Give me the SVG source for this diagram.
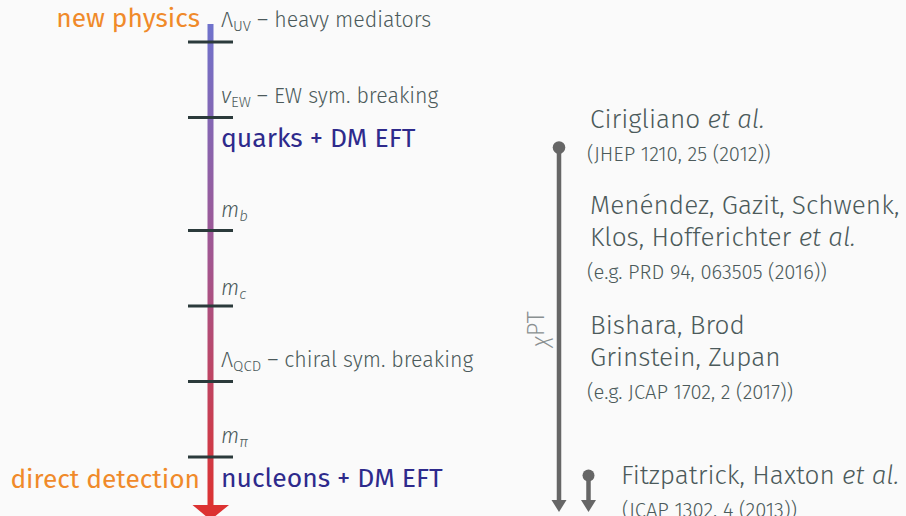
<svg xmlns="http://www.w3.org/2000/svg" width="906" height="516" viewBox="0 0 906 516">
<defs>
<linearGradient id="scale" x1="0" y1="24" x2="0" y2="505" gradientUnits="userSpaceOnUse">
<stop offset="0" stop-color="#6f72cc"/>
<stop offset="0.5" stop-color="#a3558e"/>
<stop offset="1" stop-color="#dc3232"/>
</linearGradient>
</defs>
<style>
text { font-family: "Fira Sans", "Open Sans", "Noto Sans", "Liberation Sans", sans-serif; font-weight: 300; }
.orange { fill: #f08a2a; font-size: 26.3px; font-weight: 400; }
.scale { fill: #4c5a5b; font-size: 21.4px; }
.sub { font-size: 15px; }
.eft { fill: #2e2a8c; font-size: 26.5px; font-weight: 400; }
.ref { fill: #4c5a5b; font-size: 26.2px; }
.cite { fill: #4c5a5b; font-size: 20.2px; }
.tick { stroke: #2b3a3b; stroke-width: 3; }
.gline { stroke: #666666; stroke-width: 4.5; fill: none; }
.ghead { fill: #666666; }
</style>
<rect width="906" height="516" fill="#fafafa"/>

<g id="connectors">
<rect x="207.5" y="24" width="6" height="482" fill="url(#scale)"/>
<path d="M192.5,505 L229,505 L210.5,520 Z" fill="#dc3232"/>
<line class="tick" x1="188" y1="42" x2="233" y2="42"/>
<line class="tick" x1="188" y1="117.5" x2="233" y2="117.5"/>
<line class="tick" x1="188" y1="230.5" x2="233" y2="230.5"/>
<line class="tick" x1="188" y1="306" x2="233" y2="306"/>
<line class="tick" x1="188" y1="381.5" x2="233" y2="381.5"/>
<line class="tick" x1="188" y1="457" x2="233" y2="457"/>
<circle cx="559" cy="147.5" r="6.3" fill="#666666"/>
<line class="gline" x1="559" y1="147.5" x2="559" y2="501"/>
<path class="ghead" d="M551.5,500 L566.5,500 L559,512 Z"/>
<circle cx="588.5" cy="475.5" r="6" fill="#666666"/>
<line class="gline" x1="588.5" y1="475.5" x2="588.5" y2="501"/>
<path class="ghead" d="M581,500 L596,500 L588.5,512 Z"/>
</g>

<g id="new-physics"><text class="orange" x="200" y="27" text-anchor="end">new physics</text></g>
<g id="lambda-uv"><text class="scale" x="221" y="27">Λ<tspan class="sub" dy="4">UV</tspan><tspan dy="-4"> – heavy mediators</tspan></text></g>
<g id="v-ew"><text class="scale" x="221" y="103"><tspan font-style="italic">v</tspan><tspan class="sub" dy="4">EW</tspan><tspan dy="-4"> – EW sym. breaking</tspan></text></g>
<g id="quarks-eft"><text class="eft" x="221" y="147">quarks + DM EFT</text></g>
<g id="m-b"><text class="scale" x="221" y="217"><tspan font-style="italic">m</tspan><tspan class="sub" font-style="italic" dy="4">b</tspan></text></g>
<g id="m-c"><text class="scale" x="221" y="295"><tspan font-style="italic">m</tspan><tspan class="sub" font-style="italic" dy="4">c</tspan></text></g>
<g id="lambda-qcd"><text class="scale" x="221" y="367">Λ<tspan class="sub" dy="4">QCD</tspan><tspan dy="-4"> – chiral sym. breaking</tspan></text></g>
<g id="m-pi"><text class="scale" x="221" y="443"><tspan font-style="italic">m</tspan><tspan class="sub" font-style="italic" dy="4">π</tspan></text></g>
<g id="direct-detection"><text class="orange" x="200" y="488" text-anchor="end">direct detection</text></g>
<g id="nucleons-eft"><text class="eft" x="221" y="487">nucleons + DM EFT</text></g>

<g id="chipt"><text font-size="24" transform="translate(548,329) rotate(-90)" text-anchor="middle" fill="#8a9091"><tspan font-style="italic" dy="0">χ</tspan><tspan dy="-4">PT</tspan></text></g>

<g id="cirigliano">
<text class="ref" x="590" y="128">Cirigliano <tspan font-style="italic">et al.</tspan></text>
<text class="cite" x="587" y="161">(JHEP 1210, 25 (2012))</text>
</g>
<g id="menendez">
<text class="ref" x="590" y="214">Menéndez, Gazit, Schwenk,</text>
<text class="ref" x="590" y="246">Klos, Hofferichter <tspan font-style="italic">et al.</tspan></text>
<text class="cite" x="587" y="279">(e.g. PRD 94, 063505 (2016))</text>
</g>
<g id="bishara">
<text class="ref" x="590" y="334">Bishara, Brod</text>
<text class="ref" x="590" y="366">Grinstein, Zupan</text>
<text class="cite" x="587" y="399">(e.g. JCAP 1702, 2 (2017))</text>
</g>
<g id="fitzpatrick">
<text class="ref" x="621" y="484">Fitzpatrick, Haxton <tspan font-style="italic">et al.</tspan></text>
<text class="cite" x="622" y="517">(JCAP 1302, 4 (2013))</text>
</g>
</svg>
